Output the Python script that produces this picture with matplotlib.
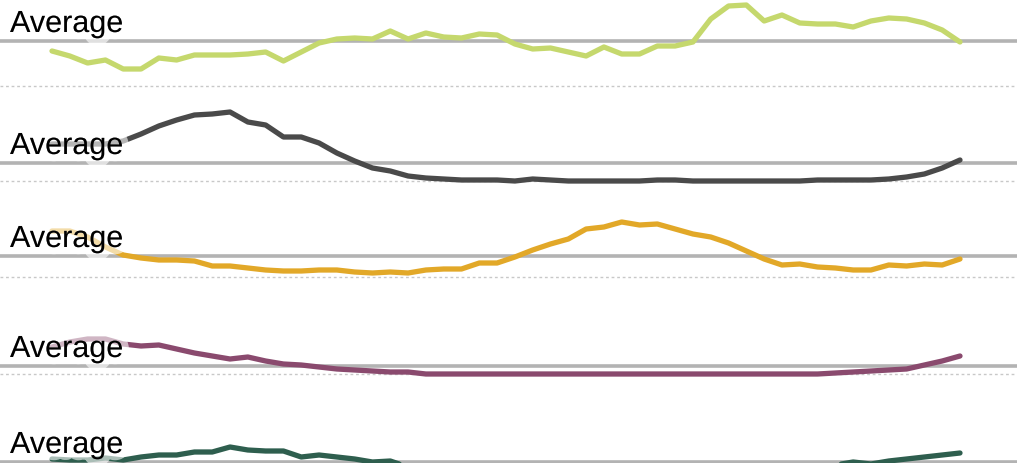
import matplotlib
matplotlib.use("Agg")
import matplotlib.pyplot as plt
import matplotlib.patheffects as pe
import numpy as np

# values relative to each row's average (in pixel-ish units, positive = above)
avg_px = [42, 164, 257, 367, 463]
dot_px = [87, 182, 278, 375, None]
colors = ["#c5d86d", "#4a4a4a", "#e2a828", "#8a4a6e", "#2e5e4e"]

r1 = [52,57,64,61,70,70,59,61,56,56,56,55,53,62,53,44,40,39,40,32,40,34,38,39,35,36,45,50,49,53,57,48,55,55,47,47,43,20,7,6,22,16,24,25,25,28,22,19,20,24,31,43]
r2 = [145,145,145,145,142,135,127,121,116,115,113,123,126,138,138,144,154,162,169,172,177,179,180,181,181,181,182,180,181,182,182,182,182,182,181,181,182,182,182,182,182,182,182,181,181,181,181,180,178,175,169,161]
r3 = [232,232,238,248,256,259,261,261,262,267,267,269,271,272,272,271,271,273,274,273,274,271,270,270,264,264,258,251,245,240,230,228,223,226,225,230,235,238,244,252,260,266,265,268,269,271,271,266,267,265,266,260]
r4 = [348,343,340,340,345,347,346,350,354,357,360,358,362,365,366,368,370,371,372,373,373,375,375] + [375]*21 + [374,373,372,371,370,366,362,357]
r5 = [460,461,461,459,461,458,456,456,453,453,448,451,452,452,458,456,458,460,463,462] + [468]*24 + [466,463,465,462,460,458,456,454]
rows_px = [r1, r2, r3, r4, r5]
series = [[a - v for v in r] for a, r in zip(avg_px, rows_px)]

fig = plt.figure(figsize=(10.17, 4.64), dpi=100)
ax = fig.add_axes([0, 0, 1, 1])
ax.set_axis_off()
step = 908 / 51
ax.set_xlim(-52 / step, (1017 - 52) / step)
ax.set_ylim(464, 0)

for i, (s, a, d, c) in enumerate(zip(series, avg_px, dot_px, colors)):
    x = np.arange(len(s))
    y = a - np.array(s)
    ax.axhline(a, color="#b3b3b3", lw=2.6, zorder=1)
    if d is not None:
        ax.axhline(d, color="#c8c8c8", lw=1, ls=(0, (2, 2)), zorder=1)
    ax.plot(x, y, color=c, lw=3.8, solid_capstyle="round", zorder=2)
    ax.text(10 / step - 52 / step, a - 9, "Average", fontsize=22,
            family="Liberation Sans", color="black", va="baseline", ha="left",
            zorder=3,
            path_effects=[pe.withStroke(linewidth=10, foreground=(1, 1, 1, 0.6))])

fig.savefig("out.png", dpi=100)
